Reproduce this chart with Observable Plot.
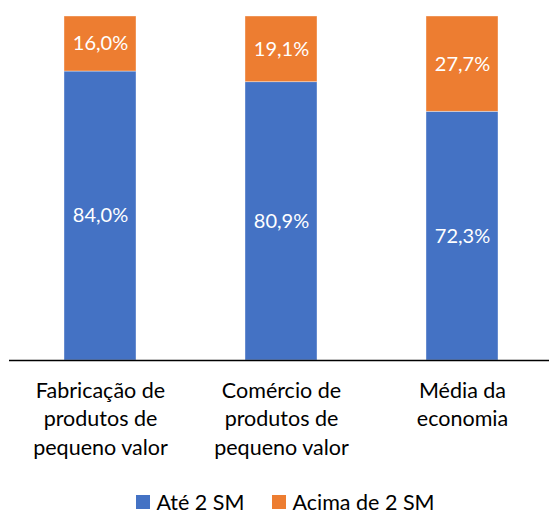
<!DOCTYPE html>
<html><head><meta charset="utf-8">
<script src="https://cdn.jsdelivr.net/npm/d3@7"></script>
<script src="https://cdn.jsdelivr.net/npm/@observablehq/plot@0.6"></script>
<style>
html,body{margin:0;padding:0;background:#fff;overflow:hidden;}
#legend{display:flex;justify-content:center;align-items:center;gap:28px;height:20.5px;padding-left:22px;padding-top:5.5px;font-family:Lato,"Open Sans",sans-serif;font-size:21.5px;color:#000;line-height:20.5px;}
#legend .item{display:flex;align-items:center;gap:6px;}
#legend .sw{width:14px;height:14px;display:inline-block;}
</style>
</head><body>
<div id="chart"></div>
<div id="legend"></div>
<script>
const categories = ["Fabricação de\nprodutos de\npequeno valor", "Comércio de\nprodutos de\npequeno valor", "Média da\neconomia"];
const series = ["Até 2 SM", "Acima de 2 SM"];
const ate2SM = [84.0, 80.9, 72.3];
const acima2SM = [16.0, 19.1, 27.7];
const colors = ["#4472C4", "#ED7D31"];

const data = categories.flatMap((c, i) => [
  {cat: c, serie: series[0], value: ate2SM[i]},
  {cat: c, serie: series[1], value: acima2SM[i]}
]);
const fmt = v => v.toFixed(1).replace(".", ",") + "%";

const plot = Plot.plot({
  width: 549, height: 486,
  marginTop: 16, marginBottom: 126, marginLeft: 9, marginRight: 0,
  style: {fontFamily: "Lato, 'Open Sans', sans-serif", fontSize: "20px", background: "white", color: "black"},
  x: {domain: categories, range: [9.25, 553.75], paddingInner: 0.6, paddingOuter: 0.3, label: null, axis: null},
  y: {domain: [0, 100], axis: null},
  color: {domain: series, range: colors},
  marks: [
    Plot.barY(data, {x: "cat", y: "value", fill: "serie", z: "serie", stroke: "white", strokeOpacity: 0.5, strokeWidth: 0.75}),
    Plot.text(data, Plot.stackY({x: "cat", y: "value", z: "serie", text: d => fmt(d.value), fill: "white", fontSize: 20})),
    Plot.ruleY([0], {stroke: "black", strokeWidth: 1.5}),
    Plot.axisX({tickSize: 0, tickPadding: 17, fontSize: 21.5, lineHeight: 1.33, fill: "black", label: null})
  ]
});
document.getElementById("chart").appendChild(plot);

const legend = document.getElementById("legend");
series.forEach((s, i) => {
  const item = document.createElement("span");
  item.className = "item";
  const sw = document.createElement("span");
  sw.className = "sw";
  sw.style.background = colors[i];
  const t = document.createElement("span");
  t.textContent = s;
  item.appendChild(sw); item.appendChild(t);
  legend.appendChild(item);
});
</script>
</body></html>
